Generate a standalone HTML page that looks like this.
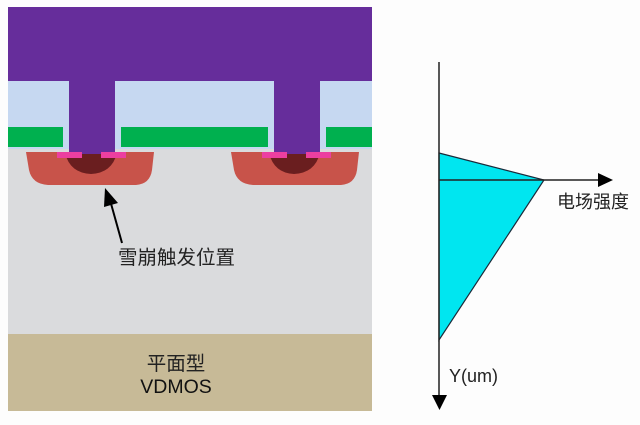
<!DOCTYPE html>
<html><head><meta charset="utf-8"><style>
html,body{margin:0;padding:0;background:#fff;}
svg{display:block;}
text{font-family:"Liberation Sans","Noto Sans CJK SC",sans-serif;}
</style></head><body>
<svg width="640" height="425" viewBox="0 0 640 425" xmlns="http://www.w3.org/2000/svg">
<rect x="0" y="0" width="640" height="425" fill="#fdfdfd"/>
<!-- substrate gray -->
<rect x="8" y="148" width="364" height="187" fill="#dadbdd"/>
<!-- tan -->
<rect x="8" y="334" width="364" height="77" fill="#c7ba97"/>
<!-- light blue -->
<rect x="8" y="81" width="364" height="68" fill="#c6d8f1"/>
<!-- green -->
<rect x="8" y="127" width="55" height="20" fill="#00b04f"/>
<rect x="121" y="127" width="147" height="20" fill="#00b04f"/>
<rect x="326" y="127" width="46" height="20" fill="#00b04f"/>
<!-- wells -->
<path d="M26 152 L154 152 L152 170 Q150 184 136 185 L48 185 Q32 184 29 170 Z" fill="#c8534a"/>
<path d="M231 152 L359 152 L357 170 Q355 184 341 185 L253 185 Q237 184 234 170 Z" fill="#c8534a"/>
<!-- maroon -->
<path d="M65 153 L117 153 Q112 173 91 174 Q70 173 65 153 Z" fill="#6a1e1f"/>
<path d="M269 153 L320 153 Q315 173 294 174 Q274 173 269 153 Z" fill="#6a1e1f"/>
<!-- purple -->
<path d="M8 7 L372 7 L372 81 L320 81 L320 154 L274 154 L274 81 L115 81 L115 154 L69 154 L69 81 L8 81 Z" fill="#662d9b"/>
<!-- pink -->
<rect x="57" y="152" width="25" height="6" fill="#ec3fa0"/>
<rect x="101" y="152" width="25" height="6" fill="#ec3fa0"/>
<rect x="262" y="152" width="25" height="6" fill="#ec3fa0"/>
<rect x="306" y="152" width="25" height="6" fill="#ec3fa0"/>
<!-- arrow -->
<line x1="122" y1="243" x2="110" y2="200" stroke="#000" stroke-width="2"/>
<polygon points="105,188 118,203 104,207" fill="#000"/>
<text x="118" y="264" font-size="19.5" fill="#222">雪崩触发位置</text>
<text x="176" y="370" font-size="19.5" fill="#222" text-anchor="middle">平面型</text>
<text x="176" y="393" font-size="19.5" fill="#111" text-anchor="middle">VDMOS</text>
<!-- chart -->
<polygon points="439,153 544,180 439,340" fill="#00e6f0" stroke="#1a2a3a" stroke-width="1.2"/>
<line x1="439" y1="62" x2="439" y2="397" stroke="#222" stroke-width="1.5"/>
<polygon points="432,395 447,395 439.5,410" fill="#000"/>
<line x1="439" y1="180" x2="600" y2="180" stroke="#222" stroke-width="1.5"/>
<polygon points="598,173 598,187 613,180" fill="#000"/>
<text x="557" y="208" font-size="18" fill="#222">电场强度</text>
<text x="449" y="382" font-size="18" fill="#222">Y(um)</text>
</svg>
</body></html>
